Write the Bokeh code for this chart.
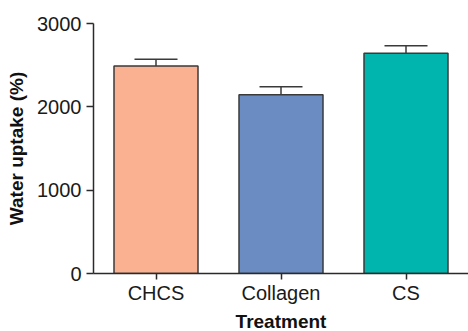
from bokeh.plotting import figure
from bokeh.models import ColumnDataSource, FactorRange, Range1d, FixedTicker, Whisker, TeeHead
from bokeh.embed import file_html
from bokeh.resources import INLINE

categories = ["CHCS", "Collagen", "CS"]
uptake = [2490, 2146, 2643]
sem = [82, 95, 90]
colors = ["#F9B191", "#6A8CC2", "#00B5AD"]
y_ticks = [0, 1000, 2000, 3000]

upper = [v + e for v, e in zip(uptake, sem)]
src = ColumnDataSource(dict(cat=categories, val=uptake, up=upper, col=colors))

p = figure(x_range=FactorRange(factors=categories, range_padding=0),
           y_range=Range1d(0, 3000),
           frame_width=375, frame_height=250,
           min_border_left=93, min_border_top=23, min_border_right=0, min_border_bottom=50,
           output_backend="svg", toolbar_location=None)

p.vbar(x="cat", top="val", width=0.672, source=src, fill_color="col",
       line_color="#3a3a3a", line_width=1.5)

w = Whisker(base="cat", upper="up", lower="val", source=src,
            upper_head=TeeHead(size=43, line_color="#3a3a3a", line_width=1.5),
            lower_head=None, line_color="#3a3a3a", line_width=1.5)
p.add_layout(w)

p.outline_line_color = None
p.xgrid.grid_line_color = None
p.ygrid.grid_line_color = None

for ax in (p.xaxis[0], p.yaxis[0]):
    ax.axis_line_color = "#2a2a2a"
    ax.axis_line_width = 1.5
    ax.major_tick_line_color = "#2a2a2a"
    ax.major_tick_line_width = 1.5
    ax.major_tick_in = 0
    ax.minor_tick_line_color = None
    ax.major_label_text_font = "Liberation Sans"
    ax.major_label_text_font_size = "20px"
    ax.major_label_text_color = "#1a1a1a"
    ax.axis_label_text_font = "Liberation Sans"
    ax.axis_label_text_font_size = "19px"
    ax.axis_label_text_font_style = "bold"
    ax.axis_label_text_color = "#111111"

p.yaxis[0].ticker = FixedTicker(ticks=y_ticks)
p.yaxis[0].major_tick_out = 7
p.yaxis[0].major_label_standoff = 5
p.yaxis[0].axis_label = "Water uptake (%)"
p.yaxis[0].axis_label_standoff = 7

p.xaxis[0].major_tick_out = 6
p.xaxis[0].major_label_standoff = 2
p.xaxis[0].axis_label = "Treatment"
p.xaxis[0].axis_label_standoff = 4

open("out.html", "w").write(file_html(p, INLINE))
